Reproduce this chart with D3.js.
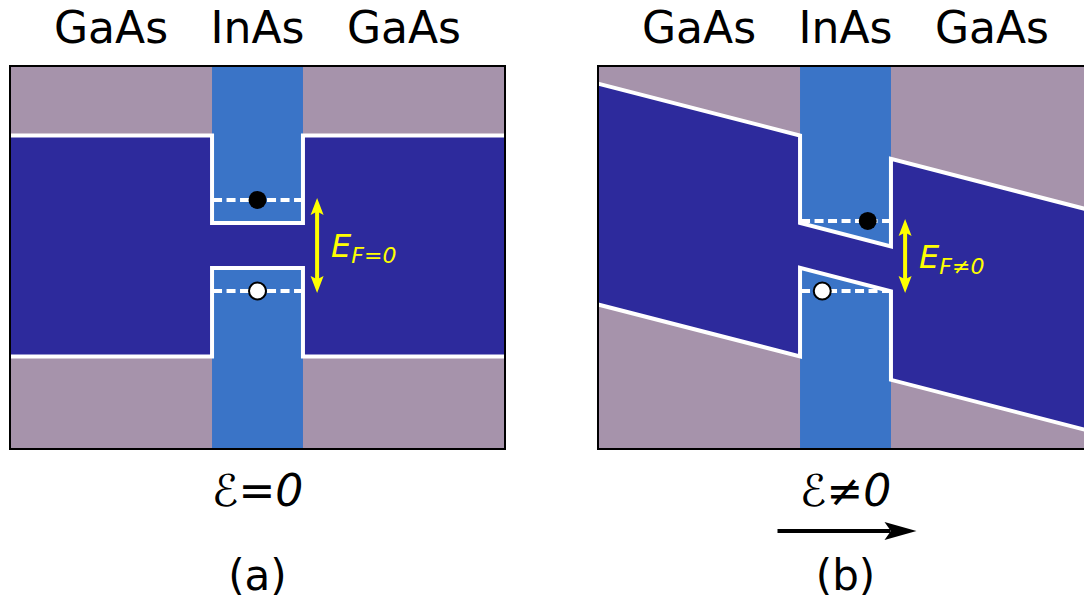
<!DOCTYPE html>
<html>
<head>
<meta charset="utf-8">
<script src="https://cdn.jsdelivr.net/npm/d3@7"></script>
<style>
  body { margin: 0; background: #fff; }
  svg text { font-family: "DejaVu Sans", Verdana, sans-serif; }
</style>
</head>
<body>
<svg width="1084" height="608"></svg>
<script>
// layers along growth direction (position units), energies in eV relative to midgap
var layerNames = ["GaAs", "InAs", "GaAs"];
var layerEdges = [0, 20, 29, 49];
var bandCB = [0.71, 0.148, 0.71];
var bandVB = [-0.71, -0.141, -0.71];

// one entry per panel: (a) no field, (b) with field
var panelTags = ["(a)", "(b)"];
var fieldSlope = [0, 0.0167];   // eV per position unit
var fieldZero = 20;
var levelE = [0.296, 0.161];
var levelH = [-0.289, -0.289];
var electronX = [24.5, 26.7];
var holeX = [24.5, 22.2];
var gapSub = ["F=0", "F\u22600"];
var fieldText = ["=0", "\u22600"];

var colPink = "#a693ab", colInAs = "#3a74c7", colGap = "#2d2a9c";

var svg = d3.select("svg");
var yScale = d3.scaleLinear().domain([-1.305, 1.157]).range([449, 66]);
var panelRanges = [[10, 505], [598, 1093]];

// arrow head polygon pointing along (dx,dy) with tip at (x,y)
function head(x, y, dx, dy, len, half) {
    var px = -dy, py = dx;
    var bx = x - dx * len, by = y - dy * len;
    var nx = x - dx * len * 0.8, ny = y - dy * len * 0.8;
    return [[x, y], [bx + px * half, by + py * half], [nx, ny], [bx - px * half, by - py * half]];
}

panelTags.forEach(function(tag, p) {
    var x = d3.scaleLinear().domain([0, 49]).range(panelRanges[p]);
    var g = svg.append("g");

    function tilt(u) { return fieldSlope[p] * (u - fieldZero); }

    // background + InAs column
    g.append("rect")
        .attr("x", x(0)).attr("y", yScale(1.157))
        .attr("width", x(49) - x(0)).attr("height", yScale(-1.305) - yScale(1.157))
        .attr("fill", colPink);
    g.append("rect")
        .attr("x", x(layerEdges[1])).attr("y", yScale(1.157))
        .attr("width", x(layerEdges[2]) - x(layerEdges[1]))
        .attr("height", yScale(-1.305) - yScale(1.157))
        .attr("fill", colInAs);

    var cb = [], vb = [];
    layerNames.forEach(function(n, i) {
        [layerEdges[i], layerEdges[i + 1]].forEach(function(u) {
            cb.push([u, bandCB[i] - tilt(u)]);
            vb.push([u, bandVB[i] - tilt(u)]);
        });
    });
    var line = d3.line().x(function(d) { return x(d[0]); }).y(function(d) { return yScale(d[1]); });

    g.append("path")
        .attr("d", line(cb.concat(vb.slice().reverse())) + "Z")
        .attr("fill", colGap);
    [cb, vb].forEach(function(b) {
        g.append("path").attr("d", line(b))
            .attr("fill", "none").attr("stroke", "#fff").attr("stroke-width", 4);
    });

    // confined levels
    [levelE[p], levelH[p]].forEach(function(e) {
        g.append("line")
            .attr("x1", x(layerEdges[1]) + 1).attr("x2", x(layerEdges[2]) - 1)
            .attr("y1", yScale(e)).attr("y2", yScale(e))
            .attr("stroke", "#fff").attr("stroke-width", 4)
            .attr("stroke-dasharray", "9,4.5");
    });
    g.append("circle").attr("cx", x(electronX[p])).attr("cy", yScale(levelE[p]))
        .attr("r", 9).attr("fill", "#000");
    g.append("circle").attr("cx", x(holeX[p])).attr("cy", yScale(levelH[p]))
        .attr("r", 8.5).attr("fill", "#fff").attr("stroke", "#000").attr("stroke-width", 2);

    // yellow transition arrow
    var ax = x(30.4), y1 = yScale(levelE[p]) - 2, y2 = yScale(levelH[p]) + 2;
    g.append("line").attr("x1", ax).attr("x2", ax).attr("y1", y1 + 10).attr("y2", y2 - 10)
        .attr("stroke", "#ffff00").attr("stroke-width", 4);
    [head(ax, y1, 0, -1, 17, 6.5), head(ax, y2, 0, 1, 17, 6.5)].forEach(function(h) {
        g.append("polygon").attr("points", h.join(" ")).attr("fill", "#ffff00");
    });
    var lab = g.append("text")
        .attr("x", ax + 14).attr("y", (y1 + y2) / 2 + 12)
        .attr("fill", "#ffff00").attr("font-style", "italic").attr("font-size", 32);
    lab.append("tspan").text("E");
    lab.append("tspan").attr("font-size", 22).attr("dy", 6).text(gapSub[p]);

    // frame
    g.append("rect")
        .attr("x", x(0)).attr("y", yScale(1.157))
        .attr("width", x(49) - x(0)).attr("height", yScale(-1.305) - yScale(1.157))
        .attr("fill", "none").attr("stroke", "#000").attr("stroke-width", 2);

    // layer titles
    layerNames.forEach(function(n, i) {
        g.append("text")
            .attr("x", x((layerEdges[i] + layerEdges[i + 1]) / 2)).attr("y", 43)
            .attr("text-anchor", "middle").attr("font-size", 44).text(n);
    });

    var cx = x((layerEdges[1] + layerEdges[2]) / 2);
    var ft = g.append("text").attr("x", cx).attr("y", 506)
        .attr("text-anchor", "middle").attr("font-size", 44).attr("font-style", "italic");
    ft.append("tspan").text("\u2130");
    ft.append("tspan").text(fieldText[p]);

    if (fieldSlope[p] !== 0) {
        g.append("line").attr("x1", cx - 68).attr("x2", cx + 45).attr("y1", 531).attr("y2", 531)
            .attr("stroke", "#000").attr("stroke-width", 4);
        g.append("polygon").attr("points", head(cx + 71, 531, 1, 0, 32, 9).join(" "))
            .attr("fill", "#000");
    }

    g.append("text").attr("x", cx).attr("y", 590)
        .attr("text-anchor", "middle").attr("font-size", 42).text(tag);
});
</script>
</body>
</html>
